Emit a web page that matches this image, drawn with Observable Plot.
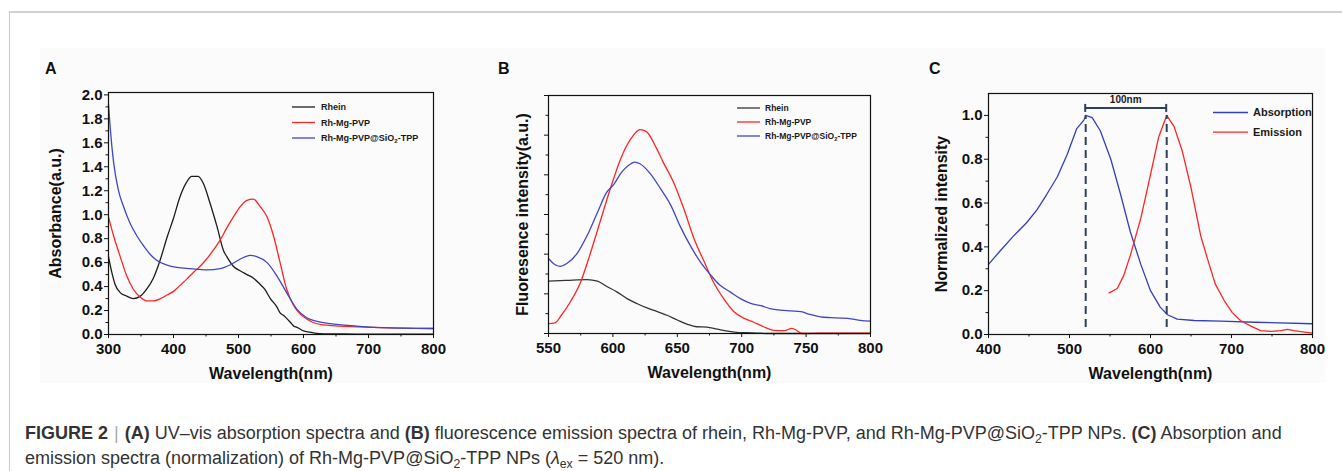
<!DOCTYPE html>
<html><head><meta charset="utf-8">
<script src="https://cdn.jsdelivr.net/npm/d3@7"></script>
<script src="https://cdn.jsdelivr.net/npm/@observablehq/plot@0.6"></script>
<style>
html,body{margin:0;padding:0;background:#fff;}
#page{position:relative;width:1342px;height:471px;overflow:hidden;font-family:"Liberation Sans",Arial,Helvetica,sans-serif;}
.border{position:absolute;left:9px;top:11px;right:0;bottom:0;border-top:2px solid #d2d2d2;border-left:1px solid #c9c9c9;}
.figbg{position:absolute;left:40px;top:48px;width:1285px;height:335px;background:#fbfbfb;}
.panel{position:absolute;top:55px;}
.letter{position:absolute;top:60px;font:bold 16px "Liberation Sans",Arial,sans-serif;color:#111;}
#caption{position:absolute;left:25px;top:421px;font-size:18px;line-height:25px;color:#333;white-space:nowrap;}
#caption .sep{color:#aaa;font-weight:normal;margin:0 6px;}
#caption sub{font-size:0.68em;line-height:0;vertical-align:-0.3em;}
</style>
</head><body>
<div id="page">
  <div class="border"></div>
  <div class="figbg"></div>
  <div class="letter" style="left:45px">A</div>
  <div class="letter" style="left:498px">B</div>
  <div class="letter" style="left:929px">C</div>
  <div class="panel" id="pA" style="left:40px"></div>
  <div class="panel" id="pB" style="left:500px"></div>
  <div class="panel" id="pC" style="left:925px"></div>
  <div id="caption"><b>FIGURE 2</b><span class="sep">|</span><b>(A)</b> UV–vis absorption spectra and <b>(B)</b> fluorescence emission spectra of rhein, Rh-Mg-PVP, and Rh-Mg-PVP@SiO<sub>2</sub>-TPP NPs. <b>(C)</b> Absorption and<br>emission spectra (normalization) of Rh-Mg-PVP@SiO<sub>2</sub>-TPP NPs (<i>λ</i><sub>ex</sub> = 520 nm).</div>
</div>
<script>
// ---------------- DATA ----------------
// Panel A: UV-vis absorption (Absorbance, a.u.)
const seriesNames = ["Rhein", "Rh-Mg-PVP", "Rh-Mg-PVP@SiO₂-TPP"];

const wlA_rhein  = [300,305,310,318,328,338,349,359,369,380,390,400,410,420,428,438,446,456,467,477,482,492,503,513,523,533,540,549,559,564,569,580,585,590,600,610,620,631,660,700,800];
const absA_rhein = [0.65,0.52,0.42,0.35,0.32,0.30,0.32,0.38,0.47,0.63,0.81,0.97,1.15,1.27,1.32,1.32,1.26,1.10,0.90,0.70,0.65,0.57,0.53,0.50,0.47,0.42,0.38,0.30,0.23,0.18,0.16,0.10,0.07,0.06,0.03,0.02,0.01,0.006,0.004,0.003,0.002];

const wlA_pvp  = [300,308,318,328,338,349,359,369,380,390,400,410,420,431,441,451,462,472,482,492,503,513,523,533,544,554,564,574,585,595,605,615,631,656,708,800];
const absA_pvp = [0.98,0.82,0.65,0.49,0.38,0.31,0.28,0.28,0.30,0.33,0.36,0.41,0.46,0.52,0.57,0.63,0.71,0.79,0.89,0.98,1.07,1.12,1.13,1.07,0.98,0.82,0.60,0.38,0.24,0.17,0.13,0.10,0.08,0.07,0.06,0.05];

const wlA_sio2  = [300,303,308,315,323,333,344,354,364,374,390,405,426,451,472,487,503,518,528,544,559,574,590,605,621,641,682,733,800];
const absA_sio2 = [1.92,1.70,1.43,1.21,1.07,0.93,0.82,0.74,0.67,0.62,0.58,0.56,0.55,0.54,0.55,0.58,0.63,0.66,0.65,0.60,0.49,0.35,0.21,0.14,0.11,0.09,0.07,0.055,0.05];

// Panel B: fluorescence emission (a.u., unlabelled axis)
const wlB_rhein  = [550,564,580,588,595,603,611,619,626,634,642,650,658,665,673,681,689,696,704,712,720,800];
const fluB_rhein = [1.32,1.34,1.36,1.32,1.19,1.05,0.88,0.75,0.65,0.56,0.46,0.34,0.23,0.17,0.16,0.11,0.06,0.03,0.02,0.01,0.0,0.0];

const wlB_pvp  = [550,555,560,567,575,582,590,598,606,614,621,626,634,639,647,655,663,671,678,686,694,702,709,717,725,733,739,743,747,761,800];
const fluB_pvp = [0.25,0.27,0.46,0.80,1.30,1.97,2.81,3.65,4.40,4.91,5.14,5.09,4.66,4.32,3.82,3.15,2.39,1.80,1.30,0.88,0.55,0.38,0.29,0.17,0.08,0.07,0.13,0.07,0.0,0.01,0.01];

const wlB_sio2  = [550,554,559,564,572,580,588,595,601,606,614,617,621,629,637,645,652,660,668,676,683,691,699,707,715,722,730,738,746,753,761,769,777,785,792,800];
const fluB_sio2 = [1.89,1.76,1.69,1.76,2.01,2.47,3.05,3.55,3.77,4.03,4.28,4.32,4.28,4.03,3.65,3.23,2.72,2.22,1.80,1.47,1.22,1.05,0.88,0.76,0.70,0.63,0.59,0.57,0.55,0.48,0.42,0.40,0.39,0.37,0.33,0.31];

// Panel C: normalized spectra
const seriesNamesC = ["Absorption", "Emission"];
const wlC_abs  = [400,414,431,447,460,472,485,497,509,518,520,528,538,551,563,575,588,600,612,621,633,654,687,728,800];
const intC_abs = [0.32,0.38,0.45,0.51,0.57,0.64,0.72,0.82,0.94,0.98,1.0,0.99,0.93,0.80,0.64,0.47,0.32,0.20,0.125,0.09,0.07,0.064,0.061,0.056,0.049];
const wlC_em  = [549,559,567,575,588,600,610,620,629,639,650,662,670,680,691,701,711,724,736,749,761,769,777,790,800];
const intC_em = [0.19,0.21,0.27,0.36,0.53,0.73,0.90,1.0,0.95,0.84,0.67,0.45,0.35,0.23,0.155,0.10,0.064,0.038,0.018,0.014,0.018,0.023,0.018,0.011,0.006];
const peakWavelengths = [520, 620];

// Tick values
const xTicksA = [300,400,500,600,700,800], xMinorA = [350,450,550,650,750];
const yTicksA = [0,0.2,0.4,0.6,0.8,1.0,1.2,1.4,1.6,1.8,2.0], yMinorA = [0.1,0.3,0.5,0.7,0.9,1.1,1.3,1.5,1.7,1.9];
const xTicksB = [550,600,650,700,750,800], xMinorB = [575,625,675,725,775];
const yTicksB = [0,1,2,3,4,5,6], yMinorB = [0.5,1.5,2.5,3.5,4.5,5.5];
const xTicksC = [400,500,600,700,800], xMinorC = [450,550,650,750];
const yTicksC = [0,0.2,0.4,0.6,0.8,1.0], yMinorC = [0.1,0.3,0.5,0.7,0.9];

// ---------------- STYLE ----------------
const FONT = '"Liberation Sans", Arial, Helvetica, sans-serif';
const INK = "#111";
const BLACK = "#1c1c1c", RED = "#ff2424", BLUE = "#4046c4", BLUE_C = "#3341b8", DASH = "#2e405c";

const rows = (xs, ys) => xs.map((x, i) => ({wl: x, v: ys[i]}));

function legendMark(items, {x, y, step, len, gap, fontSize}) {
  return (index, scales, values, dims) => {
    const g = d3.create("svg:g");
    items.forEach((it, i) => {
      const yy = dims.marginTop + y + i * step;
      const x0 = dims.marginLeft + x;
      g.append("line").attr("x1", x0).attr("x2", x0 + len).attr("y1", yy).attr("y2", yy)
        .attr("stroke", it.color).attr("stroke-width", 1.3);
      const t = g.append("text").attr("x", x0 + len + gap).attr("y", yy + fontSize * 0.36)
        .attr("text-anchor", "start")
        .attr("font-size", fontSize).attr("font-weight", "bold").attr("fill", "#1a1a1a")
        .attr("font-family", FONT);
      const parts = it.label.split("₂");
      const sub = fontSize * 0.22;
      parts.forEach((p, k) => {
        const ts = t.append("tspan").text(p);
        if (k > 0) ts.attr("dy", -sub);
        if (k < parts.length - 1) {
          t.append("tspan").attr("font-size", fontSize * 0.68).attr("dy", sub).text("2");
        }
      });
    });
    return g.node();
  };
}

function panel({width, marginLeft, marginRight, marginTop, marginBottom, xDomain, yDomain,
  xTicks, xMinor, yTicks, yMinor, yFormat, lines, curve, xLabel, yLabel, yLabelDx, extra = []}) {
  return Plot.plot({
    width, height: 330, marginLeft, marginRight, marginTop, marginBottom,
    style: {fontFamily: FONT, fontWeight: "bold", color: INK, background: "transparent", overflow: "visible"},
    x: {domain: xDomain},
    y: {domain: yDomain},
    marks: [
      ...lines.map(l => Plot.line(l.data, {x: "wl", y: "v", stroke: l.color, strokeWidth: 1.3, curve})),
      Plot.frame({stroke: INK, strokeWidth: 1.2}),
      Plot.axisX({ticks: xTicks, tickSize: 4, tickPadding: 5, fontSize: 15, tickFormat: d => String(d), label: null}),
      Plot.axisX({ticks: xMinor, tickSize: 2.5, tickFormat: () => "", label: null}),
      Plot.axisY({ticks: yTicks, tickSize: 4, tickPadding: 2, fontSize: 15, tickFormat: yFormat, label: null}),
      Plot.axisY({ticks: yMinor, tickSize: 2.5, tickFormat: () => "", label: null}),
      Plot.text([xLabel], {text: d => d, frameAnchor: "bottom", textAnchor: "middle", lineAnchor: "middle", dy: 39, fontSize: 16, fontWeight: "bold", fill: INK}),
      Plot.text([yLabel], {text: d => d, frameAnchor: "left", textAnchor: "middle", lineAnchor: "middle", rotate: -90, dx: -yLabelDx, fontSize: 16, fontWeight: "bold", fill: INK}),
      ...extra
    ]
  });
}

const f1 = d3.format(".1f");

// Panel A
document.getElementById("pA").append(panel({
  width: 400, marginLeft: 68, marginRight: 7, marginTop: 37, marginBottom: 51,
  xDomain: [300, 800], yDomain: [0, 2.02],
  xTicks: xTicksA, xMinor: xMinorA, yTicks: yTicksA, yMinor: yMinorA, yFormat: f1,
  curve: "monotone-x",
  lines: [
    {data: rows(wlA_rhein, absA_rhein), color: BLACK},
    {data: rows(wlA_pvp, absA_pvp), color: RED},
    {data: rows(wlA_sio2, absA_sio2), color: BLUE}
  ],
  xLabel: "Wavelength(nm)", yLabel: "Absorbance(a.u.)", yLabelDx: 53,
  extra: [legendMark(seriesNames.map((s, i) => ({label: s, color: [BLACK, RED, BLUE][i]})),
    {x: 184, y: 15, step: 15.5, len: 23, gap: 6, fontSize: 9})]
}));

// Panel B
document.getElementById("pB").append(panel({
  width: 378, marginLeft: 48, marginRight: 8, marginTop: 40, marginBottom: 52,
  xDomain: [550, 800], yDomain: [0, 6],
  xTicks: xTicksB, xMinor: xMinorB, yTicks: yTicksB, yMinor: yMinorB, yFormat: () => "",
  curve: "monotone-x",
  lines: [
    {data: rows(wlB_rhein, fluB_rhein), color: "#333"},
    {data: rows(wlB_pvp, fluB_pvp), color: RED},
    {data: rows(wlB_sio2, fluB_sio2), color: BLUE}
  ],
  xLabel: "Wavelength(nm)", yLabel: "Fluoresence intensity(a.u.)", yLabelDx: 26,
  extra: [legendMark(seriesNames.map((s, i) => ({label: s, color: ["#333", RED, BLUE][i]})),
    {x: 189, y: 13, step: 14, len: 23, gap: 5, fontSize: 8.5})]
}));

// Panel C
const peakIntensity = d3.max(intC_abs);
const bracketMark = (index, {x, y}) => {
  const g = d3.create("svg:g").attr("stroke", DASH).attr("stroke-width", 2);
  const yb = y(peakIntensity) - 7;
  const [xa, xb] = peakWavelengths.map(x);
  g.append("line").attr("x1", xa).attr("x2", xb).attr("y1", yb).attr("y2", yb);
  for (const xx of [xa, xb]) g.append("line").attr("x1", xx).attr("x2", xx).attr("y1", yb - 4).attr("y2", yb + 4);
  g.append("text").attr("x", (xa + xb) / 2).attr("y", yb - 5).attr("text-anchor", "middle")
    .attr("stroke", "none").attr("fill", "#1a1a1a").attr("font-size", 10).attr("font-weight", "bold")
    .attr("font-family", FONT).text(`${peakWavelengths[1] - peakWavelengths[0]}nm`);
  return g.node();
};
document.getElementById("pC").append(panel({
  width: 400, marginLeft: 63, marginRight: 13, marginTop: 38, marginBottom: 51,
  xDomain: [400, 800], yDomain: [0, 1.1],
  xTicks: xTicksC, xMinor: xMinorC, yTicks: yTicksC, yMinor: yMinorC, yFormat: f1,
  curve: "linear",
  lines: [
    {data: rows(wlC_abs, intC_abs), color: BLUE_C},
    {data: rows(wlC_em, intC_em), color: RED}
  ],
  xLabel: "Wavelength(nm)", yLabel: "Normalized intensity", yLabelDx: 47,
  extra: [
    Plot.ruleX(peakWavelengths, {x: d => d, y1: 0, y2: peakIntensity, stroke: DASH, strokeWidth: 2, strokeDasharray: "8,5", insetTop: -7}),
    bracketMark,
    legendMark(seriesNamesC.map((s, i) => ({label: s, color: [BLUE_C, RED][i]})),
      {x: 225, y: 19.5, step: 19.7, len: 35, gap: 5, fontSize: 11})
  ]
}));
</script>
</body></html>
